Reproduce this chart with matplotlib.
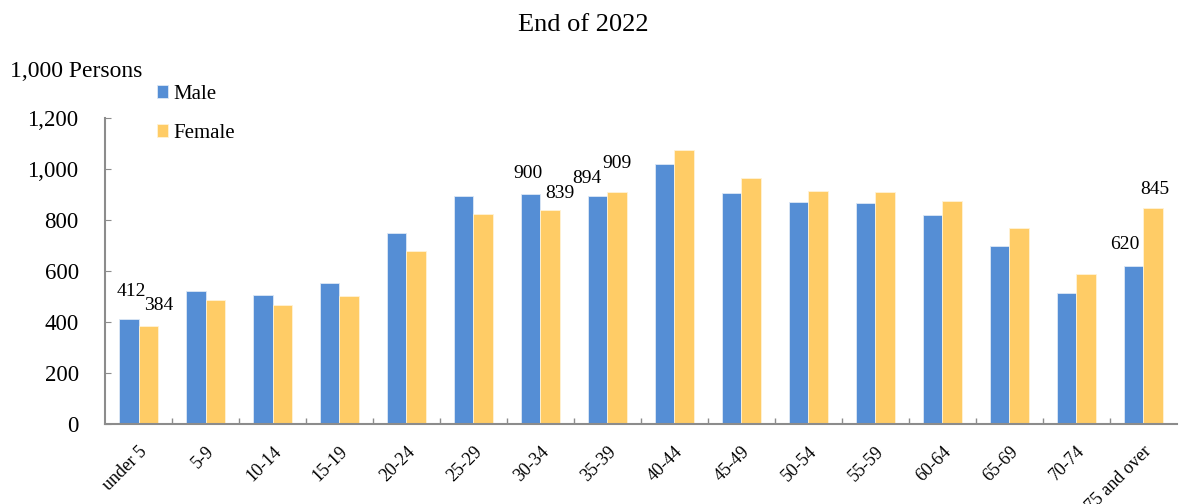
import matplotlib
matplotlib.use("Agg")
import matplotlib.pyplot as plt
import numpy as np

categories = ["under 5", "5-9", "10-14", "15-19", "20-24", "25-29", "30-34", "35-39",
              "40-44", "45-49", "50-54", "55-59", "60-64", "65-69", "70-74", "75 and over"]
male = [412, 520, 505, 554, 747, 892, 900, 894, 1018, 905, 869, 867, 820, 697, 511, 620]
female = [384, 484, 466, 501, 677, 825, 839, 909, 1074, 964, 913, 908, 876, 770, 587, 845]
yticks = [0, 200, 400, 600, 800, 1000, 1200]
ytick_labels = ["0", "200", "400", "600", "800", "1,000", "1,200"]

# labelled bars: (series, category index, text offset in pixels)
labelled = [("m", 0, (3, 27)), ("f", 0, (10, 20)),
            ("m", 6, (-3, 21)), ("f", 6, (10, 16)),
            ("m", 7, (-11, 17)), ("f", 7, (0, 29)),
            ("m", 15, (-9, 21)), ("f", 15, (2, 19))]

plt.rcParams['font.family'] = ['Liberation Serif', 'DejaVu Serif']

BLUE = "#558ED5"
YELLOW = "#FFCC66"
GREY = "#8C8C8C"

fig = plt.figure(figsize=(11.79, 5.04), dpi=100)
ax = fig.add_axes([0.0891, 0.1597, 0.909, 0.606])

x = np.arange(len(categories))
w = 0.29
bm = ax.bar(x - w / 2, male, w, color=BLUE, edgecolor="#DDE8F5", linewidth=0.6, label="Male")
bf = ax.bar(x + w / 2, female, w, color=YELLOW, edgecolor="#FFF3D6", linewidth=0.6, label="Female")

ax.set_xlim(-0.5, len(categories) - 0.5)
ax.set_ylim(0, 1200)
ax.set_yticks(yticks)
ax.set_yticklabels(ytick_labels, fontsize=16.5)
ax.tick_params(axis="y", direction="in", length=4, color=GREY, pad=19)

ax.set_xticks(x)
ax.set_xticklabels(categories, fontsize=13, rotation=45, ha="right", va="top",
                   rotation_mode="anchor")
ax.tick_params(axis="x", which="major", length=0, pad=14)
ax.set_xticks(np.arange(0.5, len(categories) - 0.5, 1), minor=True)
ax.tick_params(axis="x", which="minor", direction="in", length=4, color=GREY, width=1)

for s in ["top", "right"]:
    ax.spines[s].set_visible(False)
for s in ["left", "bottom"]:
    ax.spines[s].set_color(GREY)
    ax.spines[s].set_linewidth(1.5)

for series, i, (dx, dy) in labelled:
    if series == "m":
        xv, yv = x[i] - w / 2, male[i]
    else:
        xv, yv = x[i] + w / 2, female[i]
    ax.annotate(f"{yv}", (xv, yv), xytext=(dx, dy), textcoords="offset pixels",
                ha="center", va="center", fontsize=14)

fig.text(583 / 1179, 1 - 25 / 504, "End of 2022", ha="center", va="center", fontsize=19)
fig.text(10 / 1179, 1 - 72 / 504, "1,000 Persons", ha="left", va="center", fontsize=17)

fig.legend(handles=[bm, bf], loc="upper left", bbox_to_anchor=(157 / 1179, 1 - 85 / 504),
           frameon=False, fontsize=15, handlelength=0.55, handleheight=0.55,
           handletextpad=0.25, labelspacing=0.95, borderaxespad=0, borderpad=0)

fig.savefig("out.png", dpi=100)
